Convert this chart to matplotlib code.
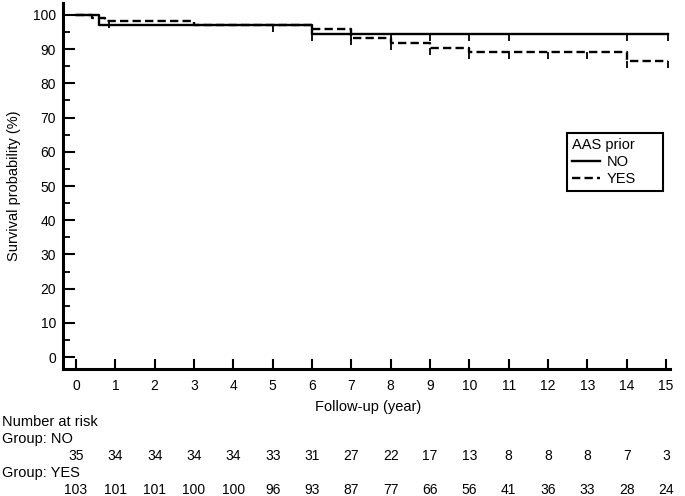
import matplotlib
matplotlib.use('Agg')
from matplotlib import pyplot as plt
from matplotlib.ticker import MultipleLocator

plt.rcParams['font.family'] = ['Liberation Sans', 'DejaVu Sans']
plt.rcParams['lines.scale_dashes'] = False

# Kaplan-Meier steps
noTimes = [0, 0.58, 6.0, 15.05]
noSurv = [100, 97.1, 94.3, 94.3]
noCensor = [5.0, 6.0, 7.0, 8.0, 9.0, 10.0, 11.0, 14.0, 15.05]

yesTimes = [0, 0.4, 0.75, 3.0, 6.0, 7.0, 8.0, 9.0, 10.0, 14.0, 15.05]
yesSurv = [100, 99.0, 98.1, 97.1, 96.0, 93.2, 91.8, 90.4, 89.1, 86.5, 86.5]
yesCensor = [0.85, 7.0, 8.0, 9.0, 10.0, 11.0, 12.0, 13.0, 14.0, 15.05]

# Number at risk table
riskYears = list(range(16))
riskNo = [35, 34, 34, 34, 34, 33, 31, 27, 22, 17, 13, 8, 8, 8, 7, 3]
riskYes = [103, 101, 101, 100, 100, 96, 93, 87, 77, 66, 56, 41, 36, 33, 28, 24]


def survAt(times, surv, t):
    # value of the step function just after time t
    val = surv[0]
    for ti, si in zip(times, surv):
        if ti <= t:
            val = si
    return val


W, H = 685, 496
fig = plt.figure(figsize=(W / 100, H / 100), dpi=100)
ax = fig.add_axes([63 / W, 1 - 369 / H, 607 / W, 366 / H])

ax.step(noTimes, noSurv, where='post', color='black', lw=1.7, label='NO')
ax.step(yesTimes, yesSurv, where='post', color='black', lw=1.7, dashes=(6, 3), label='YES')

# censor marks (small downward ticks)
ax.plot(noCensor, [survAt(noTimes, noSurv, t) for t in noCensor], ls='none', marker=3, ms=5, mew=1.3, color='black')
ax.plot(yesCensor, [survAt(yesTimes, yesSurv, t) for t in yesCensor], ls='none', marker=3, ms=5, mew=1.3, color='black')

ax.set_xlim(-0.33, 15.1)
ax.set_ylim(-3.5, 103.5)
ax.set_xticks(riskYears)
ax.yaxis.set_major_locator(MultipleLocator(10))
ax.yaxis.set_minor_locator(MultipleLocator(5))
ax.set_yticks(range(0, 101, 10))

for side in ['top', 'right']:
    ax.spines[side].set_visible(False)
for side in ['left', 'bottom']:
    ax.spines[side].set_linewidth(2.2)

ax.tick_params(axis='y', which='major', direction='in', length=8.5, width=1.5, labelsize=10, pad=5)
ax.tick_params(axis='y', which='minor', direction='in', length=5, width=1.3)
ax.tick_params(axis='x', which='major', direction='in', length=7, width=1.5, labelsize=10, pad=7)

ax.set_ylabel('Survival probability (%)', fontsize=10.5)
ax.yaxis.set_label_coords(-0.07, 0.5)

leg = ax.legend(title='AAS prior', loc='upper left', bbox_to_anchor=(0.83, 0.481, 0.158, 0.164),
                mode='expand', borderaxespad=0,
                fontsize=10.5, title_fontsize=10.5, handlelength=1.9, handletextpad=0.5,
                fancybox=False, framealpha=1, edgecolor='black', alignment='left',
                labelspacing=0.2, borderpad=0.35)
leg.get_frame().set_linewidth(1.5)

# x label and risk table in pixel positions
def px(x, y):
    return x / W, 1 - y / H

fig.text(*px(368, 407), 'Follow-up (year)', ha='center', va='center', fontsize=10.5)
fig.text(*px(2, 422), 'Number at risk', ha='left', va='center', fontsize=10.5)
fig.text(*px(2, 439), 'Group: NO', ha='left', va='center', fontsize=10.5)
fig.text(*px(2, 473), 'Group: YES', ha='left', va='center', fontsize=10.5)

for yr, nNo, nYes in zip(riskYears, riskNo, riskYes):
    xf = ax.transData.transform((yr, 0))[0] / W
    fig.text(xf, 1 - 456 / H, str(nNo), ha='center', va='center', fontsize=10)
    fig.text(xf, 1 - 490 / H, str(nYes), ha='center', va='center', fontsize=10)

fig.savefig('out.png', dpi=100, facecolor='white')
